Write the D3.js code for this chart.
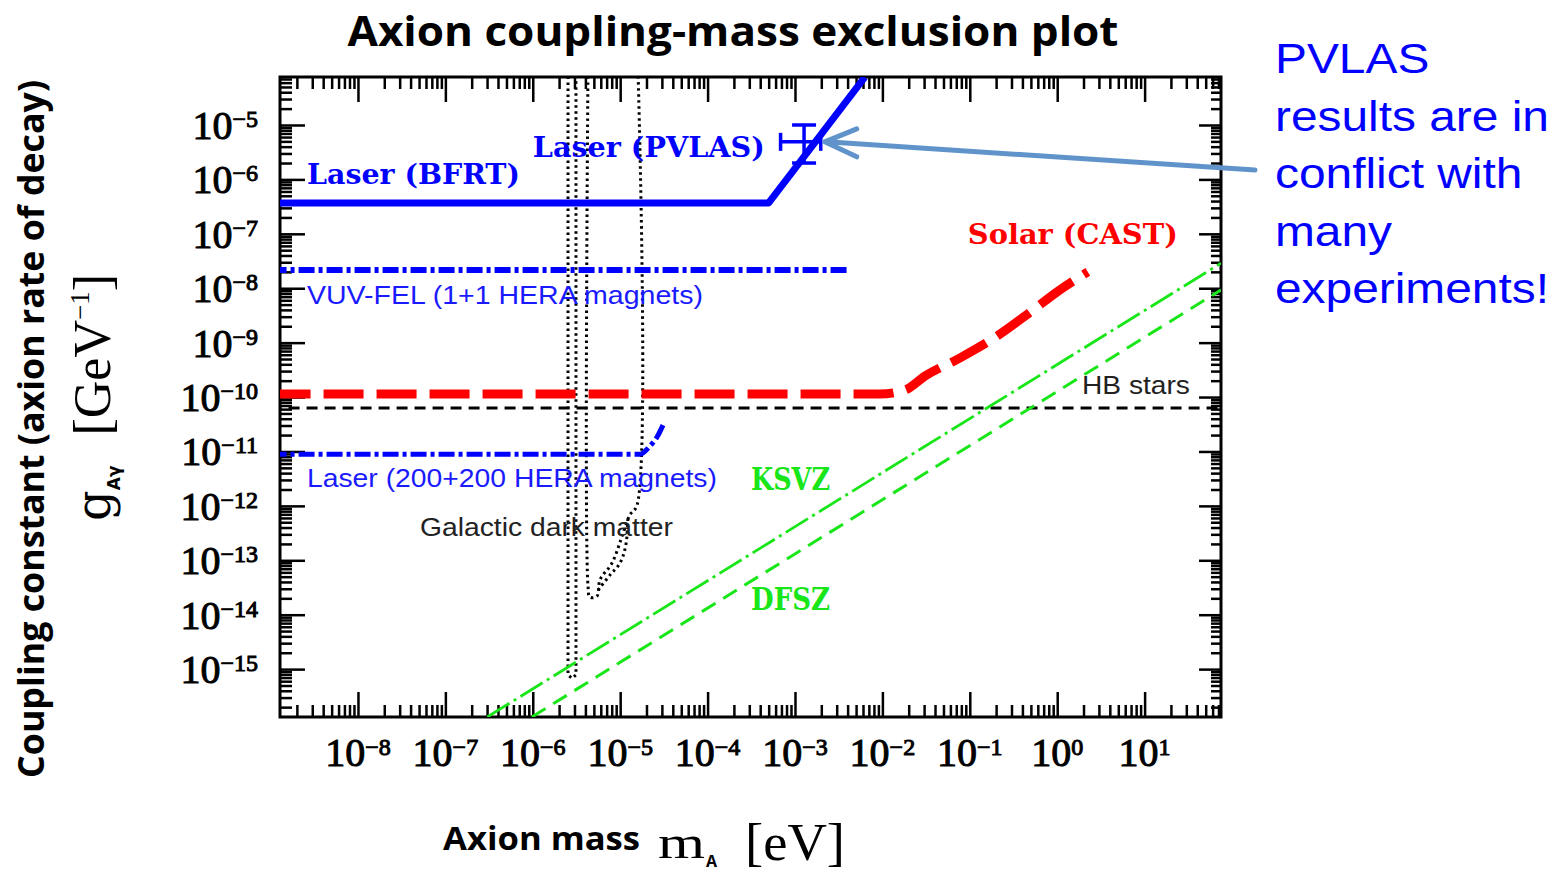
<!DOCTYPE html>
<html>
<head>
<meta charset="utf-8">
<script src="https://cdn.jsdelivr.net/npm/d3@7"></script>
<style>
  body { margin: 0; background: #fff; }
  svg { display: block; }
</style>
</head>
<body>
<div id="chart"></div>
<script>
// axion mass m_A [eV] vs coupling g_Aγ [GeV^-1], log-log
const xTickExps = [-8, -7, -6, -5, -4, -3, -2, -1, 0, 1];
const yTickExps = [-5, -6, -7, -8, -9, -10, -11, -12, -13, -14, -15];

// limits as [mass, coupling]
const bfrtLimit = [[1e-9, 3.7e-7], [5.0e-4, 3.7e-7], [6.3e-3, 7.6e-5]];
const vuvFelLimit = [[1e-9, 2.16e-8], [4.3e-3, 2.16e-8]];
const hera200Limit = [[1e-9, 8.9e-12], [1.69e-5, 8.9e-12], [2.19e-5, 1.26e-11], [2.64e-5, 1.84e-11], [3.09e-5, 3.05e-11]];
const castLimit = [[1e-9, 1.135e-10], [9.3e-3, 1.135e-10], [1.82e-2, 1.35e-10], [3.09e-2, 2.45e-10],
  [7.76e-2, 5.25e-10], [0.224, 1.45e-9], [0.49, 3.63e-9], [1.07, 9.3e-9], [2.24, 2.0e-8]];
const hbStars = [[1e-9, 6.3e-11], [100, 6.3e-11]];
const ksvz = [[3.02e-7, 1.32e-16], [74.8, 2.88e-8]];
const dfsz = [[9.77e-7, 1.32e-16], [74.8, 9.3e-9]];
const darkMatterA = [[2.53e-6, 1e-4], [2.53e-6, 7.8e-16], [2.81e-6, 6.8e-16], [3.12e-6, 7.8e-16], [3.12e-6, 1e-4]];
const darkMatterB = [[4.28e-6, 1e-4], [4.28e-6, 3.5e-14], [4.51e-6, 2.1e-14], [5.43e-6, 2.2e-14], [5.88e-6, 4.4e-14],
  [8.06e-6, 8.9e-14], [1.08e-5, 3.16e-13], [1.29e-5, 6.8e-13], [1.56e-5, 1.04e-12], [1.60e-5, 1e-4]];
const darkMatterC = [[5.57e-6, 2.83e-14], [7.64e-6, 5.35e-14], [9.95e-6, 8.9e-14], [1.16e-5, 1.9e-13], [1.23e-5, 6.8e-13]];
const pvlasPoint = { m: 1.27e-3, g: 4.9e-6, mLo: 6.84e-4, mHi: 1.97e-3, gLo: 2.0e-6, gHi: 1.0e-5 };

const noteLines = ["PVLAS", "results are in", "conflict with", "many", "experiments!"];

const width = 1563, height = 874;
const plot = { left: 280, right: 1221, top: 77, bottom: 717 };

const svg = d3.select("#chart").append("svg")
    .attr("width", width)
    .attr("height", height);

const x = d3.scaleLog()
    .domain([10 ** -8.892, 10 ** 1.874])
    .range([plot.left, plot.right]);

const y = d3.scaleLog()
    .domain([10 ** -15.88, 10 ** -4.118])
    .range([plot.bottom, plot.top]);

const line = d3.line().x(d => x(d[0])).y(d => y(d[1]));
const monotone = d3.line().x(d => x(d[0])).y(d => y(d[1])).curve(d3.curveMonotoneX);
const catmull = d3.line().x(d => x(d[0])).y(d => y(d[1])).curve(d3.curveCatmullRom);

svg.append("clipPath").attr("id", "plotClip")
  .append("rect")
    .attr("x", plot.left).attr("y", plot.top)
    .attr("width", plot.right - plot.left)
    .attr("height", plot.bottom - plot.top);

// ticks: majors long, minors short, all pointing inward
const isMajor = v => Math.abs(Math.log10(v) - Math.round(Math.log10(v))) < 1e-6;
const xMajor = xTickExps.map(e => 10 ** e);
const yMajor = yTickExps.map(e => 10 ** e);
const xMinor = x.ticks(60).filter(v => !isMajor(v));
const yMinor = y.ticks(60).filter(v => !isMajor(v));

function inwardAxis(axisFn, scale, values, size) {
    return axisFn(scale).tickValues(values).tickSizeInner(-size).tickSizeOuter(0).tickFormat("");
}

const axes = svg.append("g").attr("class", "axes");
[
    [d3.axisBottom, x, xMajor, 25, `translate(0,${plot.bottom})`],
    [d3.axisBottom, x, xMinor, 12, `translate(0,${plot.bottom})`],
    [d3.axisTop, x, xMajor, 25, `translate(0,${plot.top})`],
    [d3.axisTop, x, xMinor, 12, `translate(0,${plot.top})`],
    [d3.axisLeft, y, yMajor, 25, `translate(${plot.left},0)`],
    [d3.axisLeft, y, yMinor, 12, `translate(${plot.left},0)`],
    [d3.axisRight, y, yMajor, 22, `translate(${plot.right},0)`],
    [d3.axisRight, y, yMinor, 10, `translate(${plot.right},0)`]
].forEach(([fn, sc, vals, size, tr]) => {
    const g = axes.append("g").attr("transform", tr).call(inwardAxis(fn, sc, vals, size));
    g.select(".domain").remove();
    g.selectAll("line").attr("stroke", "#000").attr("stroke-width", 2.5);
});

axes.append("rect")
    .attr("x", plot.left).attr("y", plot.top)
    .attr("width", plot.right - plot.left)
    .attr("height", plot.bottom - plot.top)
    .attr("fill", "none")
    .attr("stroke", "#000")
    .attr("stroke-width", 3);

// tick labels 10^n
const supText = e => (e < 0 ? "\u2212" : "") + Math.abs(e);

svg.append("g").selectAll("text")
    .data(xTickExps)
    .join("text")
    .attr("x", d => x(10 ** d))
    .attr("y", 766)
    .attr("text-anchor", "middle")
    .attr("font-family", "Liberation Serif, serif")
    .attr("fill", "#000").attr("stroke", "#000").attr("stroke-width", 1)
    .each(function (d) {
        const t = d3.select(this);
        t.append("tspan").attr("font-size", 40).text("10");
        t.append("tspan").attr("font-size", 24).attr("dy", -11).text(supText(d));
    });

svg.append("g").selectAll("text")
    .data(yTickExps)
    .join("text")
    .attr("x", 258)
    .attr("y", d => y(10 ** d) + 14)
    .attr("text-anchor", "end")
    .attr("font-family", "Liberation Serif, serif")
    .attr("fill", "#000").attr("stroke", "#000").attr("stroke-width", 1)
    .each(function (d) {
        const t = d3.select(this);
        t.append("tspan").attr("font-size", 40).text("10");
        t.append("tspan").attr("font-size", 24).attr("dy", -12).text(supText(d));
    });

// curves
const curves = svg.append("g").attr("clip-path", "url(#plotClip)");

function drawCurve(data, gen, color, w, dash) {
    curves.append("path")
        .datum(data)
        .attr("d", gen)
        .attr("fill", "none")
        .attr("stroke", color)
        .attr("stroke-width", w)
        .attr("stroke-dasharray", dash)
        .attr("stroke-linejoin", "round");
}

drawCurve(darkMatterA, line, "#000", 3, "2.5,3.5");
drawCurve(darkMatterB, catmull, "#000", 3, "2.5,3.5");
drawCurve(darkMatterC, catmull, "#000", 3, "2.5,3.5");
drawCurve(hbStars, line, "#000", 3, "11,7");
drawCurve(ksvz, line, "#19e619", 2.8, "26,5,3,5");
drawCurve(dfsz, line, "#19e619", 3, "16,9");
drawCurve(castLimit, monotone, "#ff0000", 9, "40,13");
drawCurve(hera200Limit, monotone, "#0000ff", 5, "16,4,4,4");
drawCurve(vuvFelLimit, line, "#0000ff", 6, "16,4,4,4");
drawCurve(bfrtLimit, line, "#0000ff", 7, null);

// PVLAS point with error bars
const pv = svg.append("g").attr("stroke", "#0000ff").attr("stroke-width", 3.5).attr("fill", "none");
const px = x(pvlasPoint.m), py = y(pvlasPoint.g);
pv.append("line").attr("x1", x(pvlasPoint.mLo)).attr("x2", x(pvlasPoint.mHi)).attr("y1", py).attr("y2", py);
pv.append("line").attr("x1", x(pvlasPoint.mLo)).attr("x2", x(pvlasPoint.mLo)).attr("y1", py - 9).attr("y2", py + 9);
pv.append("line").attr("x1", x(pvlasPoint.mHi)).attr("x2", x(pvlasPoint.mHi)).attr("y1", py - 9).attr("y2", py + 9);
pv.append("line").attr("x1", px).attr("x2", px).attr("y1", y(pvlasPoint.gHi)).attr("y2", y(pvlasPoint.gLo));
pv.append("line").attr("x1", px - 12).attr("x2", px + 12).attr("y1", y(pvlasPoint.gHi)).attr("y2", y(pvlasPoint.gHi));
pv.append("line").attr("x1", px - 12).attr("x2", px + 12).attr("y1", y(pvlasPoint.gLo)).attr("y2", y(pvlasPoint.gLo));

// labels inside the plot, anchored in data coordinates
const slabLabels = [
    { text: "Laser (BFRT)", m: 2.61e-9, g: 8.2e-7, color: "#0000ff", len: 213, size: 28 },
    { text: "Laser (PVLAS)", m: 1.0e-6, g: 2.58e-6, color: "#0000ff", len: 232, size: 28 },
    { text: "Solar (CAST)", m: 9.5e-2, g: 6.5e-8, color: "#ff0000", len: 210, size: 28 },
    { text: "KSVZ", m: 3.14e-4, g: 1.95e-12, color: "#19e619", len: 79, size: 31 },
    { text: "DFSZ", m: 3.14e-4, g: 1.22e-14, color: "#19e619", len: 79, size: 31 }
];
const sansLabels = [
    { text: "VUV-FEL (1+1 HERA magnets)", m: 2.61e-9, g: 5.13e-9, color: "#1a1aff", len: 396 },
    { text: "Laser (200+200 HERA magnets)", m: 2.61e-9, g: 2.22e-12, color: "#1a1aff", len: 410 },
    { text: "Galactic dark matter", m: 5.12e-8, g: 2.79e-13, color: "#222", len: 253 },
    { text: "HB stars", m: 1.92, g: 1.135e-10, color: "#222", len: 108 }
];

svg.append("g").selectAll("text")
    .data(slabLabels)
    .join("text")
    .attr("x", d => x(d.m))
    .attr("y", d => y(d.g))
    .attr("font-family", "DejaVu Serif, serif")
    .attr("font-weight", "bold")
    .attr("font-size", d => d.size)
    .attr("textLength", d => d.len)
    .attr("lengthAdjust", "spacingAndGlyphs")
    .attr("fill", d => d.color)
    .text(d => d.text);

svg.append("g").selectAll("text")
    .data(sansLabels)
    .join("text")
    .attr("x", d => x(d.m))
    .attr("y", d => y(d.g))
    .attr("font-family", "Liberation Sans, Arial, sans-serif")
    .attr("font-size", 26)
    .attr("textLength", d => d.len)
    .attr("lengthAdjust", "spacingAndGlyphs")
    .attr("fill", d => d.color)
    .text(d => d.text);

// title
svg.append("text")
    .attr("x", 733).attr("y", 46)
    .attr("text-anchor", "middle")
    .attr("font-family", "Open Sans, sans-serif")
    .attr("font-weight", "bold")
    .attr("font-size", 42)
    .attr("textLength", 771)
    .attr("lengthAdjust", "spacingAndGlyphs")
    .text("Axion coupling-mass exclusion plot");

// y axis titles
svg.append("text")
    .attr("transform", "translate(44,429) rotate(-90)")
    .attr("text-anchor", "middle")
    .attr("font-family", "Open Sans, sans-serif")
    .attr("font-weight", "bold")
    .attr("font-size", 36)
    .attr("textLength", 698)
    .attr("lengthAdjust", "spacingAndGlyphs")
    .text("Coupling constant  (axion rate of decay)");

const gUnit = svg.append("text")
    .attr("transform", "translate(110,521) rotate(-90)")
    .attr("font-family", "Liberation Serif, serif")
    .attr("fill", "#000");
gUnit.append("tspan").attr("font-family", "DejaVu Serif, serif").attr("font-size", 48).text("g");
gUnit.append("tspan").attr("font-size", 17).attr("font-family", "DejaVu Sans, sans-serif")
    .attr("font-weight", "bold").attr("dy", 10).text("Aγ");
gUnit.append("tspan").attr("font-size", 52).attr("dy", -10).attr("dx", 30).text("[GeV");
gUnit.append("tspan").attr("font-size", 27).attr("dy", -21).text("\u22121");
gUnit.append("tspan").attr("font-size", 52).attr("dy", 21).text("]");

// x axis title
svg.append("text")
    .attr("x", 443).attr("y", 850)
    .attr("font-family", "Open Sans, sans-serif")
    .attr("font-weight", "bold")
    .attr("font-size", 32)
    .attr("textLength", 197)
    .attr("lengthAdjust", "spacingAndGlyphs")
    .text("Axion mass");
svg.append("text")
    .attr("x", 658).attr("y", 858)
    .attr("font-family", "Liberation Serif, serif")
    .attr("font-size", 46)
    .attr("textLength", 47)
    .attr("lengthAdjust", "spacingAndGlyphs")
    .text("m");
svg.append("text")
    .attr("x", 706).attr("y", 867)
    .attr("font-family", "Open Sans, sans-serif")
    .attr("font-weight", "bold")
    .attr("font-size", 16)
    .text("A");
svg.append("text")
    .attr("x", 745).attr("y", 860)
    .attr("font-family", "Liberation Serif, serif")
    .attr("font-size", 52)
    .attr("textLength", 100)
    .attr("lengthAdjust", "spacingAndGlyphs")
    .text("[eV]");

// annotation (slide text is a little wider than Arial) and arrow
svg.append("g")
    .attr("transform", "translate(1275,0) scale(1.14,1)")
  .selectAll("text")
    .data(noteLines)
    .join("text")
    .attr("x", 0)
    .attr("y", (d, i) => 73 + i * 57.6)
    .attr("font-family", "Liberation Sans, Arial, sans-serif")
    .attr("font-size", 42)
    .attr("fill", "#0000ff")
    .text(d => d);

const tipX = x(pvlasPoint.mHi) + 4, tipY = py;
const arrow = svg.append("g")
    .attr("stroke", "#6193cb")
    .attr("stroke-width", 5)
    .attr("stroke-linecap", "round")
    .attr("fill", "none");
arrow.append("line").attr("x1", 1255).attr("y1", 170).attr("x2", tipX + 2).attr("y2", tipY);
arrow.append("polyline").attr("points", `${tipX + 32},${tipY - 13} ${tipX},${tipY} ${tipX + 32},${tipY + 15}`)
    .attr("stroke-linejoin", "round");
</script>
</body>
</html>
